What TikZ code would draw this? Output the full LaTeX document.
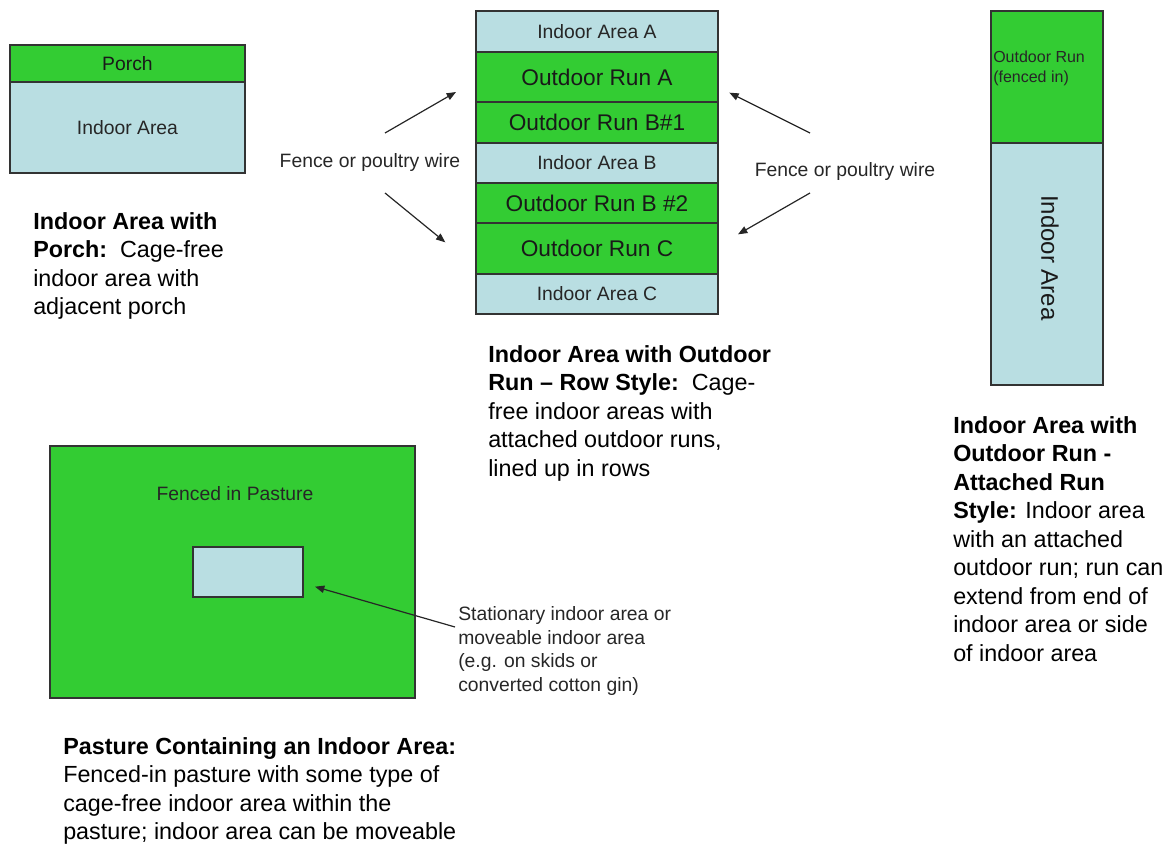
\documentclass[tikz,border=0pt]{standalone}
\usepackage{fontspec}
\setmainfont{Liberation Sans}
\usetikzlibrary{arrows.meta,positioning}
\definecolor{grass}{RGB}{51,204,51}
\definecolor{shed}{RGB}{185,222,226}
\begin{document}
\begin{tikzpicture}[
  x=0.75pt, y=-0.75pt,
  >={Triangle[length=7pt,width=5.5pt]},
  flow/.style={->, line width=0.9pt, draw=black!85},
  indoor/.style={
    draw=black!80,
    fill=shed,
    line width=0.8pt,
    outer sep=0pt,
    inner sep=0pt,
    text=black!85,
    font=\fontsize{14.5}{17}\selectfont
  },
  run/.style={
    draw=black!80,
    fill=grass,
    line width=0.8pt,
    outer sep=0pt,
    inner sep=0pt,
    text=black!90,
    font=\fontsize{17}{20}\selectfont
  },
  row/.style={minimum width=181.5pt},
  note/.style={font=\fontsize{14.5}{17.5}\selectfont, align=left, inner sep=0pt, text=black!85},
  caption/.style={
    font=\fontsize{17.5}{21.4}\selectfont,
    align=left,
    inner sep=0pt,
    anchor=north west
  }
]
\useasboundingbox (0,0) rectangle (1168,845);

% Indoor area with porch.
\node[run, minimum width=176.25pt, minimum height=27.75pt,
  font=\fontsize{14.5}{17}\selectfont] (porch) at (127.5,63.5) {Porch};
\node[indoor, minimum width=176.25pt, minimum height=68.25pt,
  below=0pt of porch, text depth=-5pt] (porchin) {Indoor Area};
\node[caption] (capporch) at (33,212)
  {\textbf{Indoor Area with}\\\textbf{Porch:}\ \ Cage-free\\indoor area with\\adjacent porch};

% Row style: indoor areas and runs stacked.
\node[indoor, row, minimum height=30.75pt] (ina) at (597,31.5) {Indoor Area A};
\node[run, row, minimum height=37.5pt, below=0pt of ina] (runa) {Outdoor Run A};
\node[run, row, minimum height=30.75pt, below=0pt of runa] (runb1) {Outdoor Run B\#1};
\node[indoor, row, minimum height=30pt, below=0pt of runb1] (inb) {Indoor Area B};
\node[run, row, minimum height=30pt, below=0pt of inb] (runb2) {Outdoor Run B \#2};
\node[run, row, minimum height=38.25pt, below=0pt of runb2] (runc) {Outdoor Run C};
\node[indoor, row, minimum height=30pt, below=0pt of runc] (inc) {Indoor Area C};
\node[caption] (caprow) at (488,345)
  {\textbf{Indoor Area with Outdoor}\\\textbf{Run -- Row Style:}\ \ Cage-\\free indoor areas with\\attached outdoor runs,\\lined up in rows};

% Fence labels and their arrows.
\node[note] (fenceleft) at (370,163) {Fence or poultry wire};
\node[note] (fenceright) at (845,172) {Fence or poultry wire};
\coordinate (ful) at (385,133);
\coordinate (fll) at (385,193);
\coordinate (fur) at (810,133);
\coordinate (flr) at (810,193);
\draw[flow] (ful) -- ([xshift=-15pt,yshift=7.5pt]runa.south west);
\draw[flow] (fll) -- ([xshift=-23pt,yshift=-14.5pt]runc.north west);
\draw[flow] (fur) -- ([xshift=8.5pt,yshift=7pt]runa.south east);
\draw[flow] (flr) -- ([xshift=15pt,yshift=-8.5pt]runc.north east);

% Attached run style.
\node[run, minimum width=84pt, minimum height=99pt] (runr) at (1047,77) {};
\node[anchor=north west, align=left, inner sep=0pt, text=black!85,
  font=\fontsize{12}{15}\selectfont] (runrtext) at (993,51) {Outdoor Run\\(fenced in)};
\node[indoor, minimum width=84pt, minimum height=181.5pt, below=0pt of runr] (inr) {};
\node[rotate=-90, inner sep=0pt, text=black!90,
  font=\fontsize{18}{21}\selectfont] (inrtext) at (1050,258) {Indoor Area};
\node[caption] (capattached) at (953,416)
  {\textbf{Indoor Area with}\\\textbf{Outdoor Run -}\\\textbf{Attached Run}\\\textbf{Style:} Indoor area\\with an attached\\outdoor run; run can\\extend from end of\\indoor area or side\\of indoor area};

% Pasture with an indoor area inside.
\node[run, minimum width=273.75pt, minimum height=189pt] (pasture) at (232.5,572) {};
\node[inner sep=0pt, text=black!85, font=\fontsize{14.5}{17}\selectfont]
  (pasturetext) at (235,494) {Fenced in Pasture};
\node[indoor, minimum width=82.5pt, minimum height=37.5pt] (hut) at (248,572) {};
\node[note, anchor=north west, font=\fontsize{14.5}{17.8}\selectfont]
  (hutnote) at (458,606) {Stationary indoor area or\\moveable indoor area\\(e.g. on skids or\\converted cotton gin)};
\coordinate (hutarrow) at (455,627);
\draw[flow] (hutarrow) -- ([xshift=9pt,yshift=-11pt]hut.east);
\node[caption] (cappasture) at (63,737)
  {\textbf{Pasture Containing an Indoor Area:}\\Fenced-in pasture with some type of\\cage-free indoor area within the\\pasture; indoor area can be moveable};

\end{tikzpicture}
\end{document}
